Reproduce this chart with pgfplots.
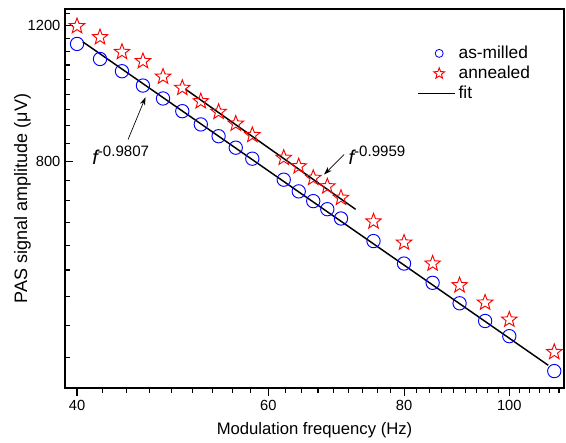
\documentclass[border=0pt]{standalone}
\usepackage{fontspec}
\setmainfont{Liberation Sans}
\usepackage{pgfplots}
\pgfplotsset{compat=1.18}
\usetikzlibrary{arrows.meta}

% hollow five-pointed star
\pgfdeclareplotmark{ostar}{%
  \pgfpathmoveto{\pgfqpointpolar{90}{\pgfplotmarksize}}%
  \pgfpathlineto{\pgfqpointpolar{126}{0.42\pgfplotmarksize}}%
  \pgfpathlineto{\pgfqpointpolar{162}{\pgfplotmarksize}}%
  \pgfpathlineto{\pgfqpointpolar{198}{0.42\pgfplotmarksize}}%
  \pgfpathlineto{\pgfqpointpolar{234}{\pgfplotmarksize}}%
  \pgfpathlineto{\pgfqpointpolar{270}{0.42\pgfplotmarksize}}%
  \pgfpathlineto{\pgfqpointpolar{306}{\pgfplotmarksize}}%
  \pgfpathlineto{\pgfqpointpolar{342}{0.42\pgfplotmarksize}}%
  \pgfpathlineto{\pgfqpointpolar{18}{\pgfplotmarksize}}%
  \pgfpathlineto{\pgfqpointpolar{54}{0.42\pgfplotmarksize}}%
  \pgfpathclose\pgfusepathqstroke}

\begin{document}
\begin{tikzpicture}
\begin{axis}[
    scale only axis,
    width=374pt, height=284pt,
    xmode=log, ymode=log,
    xmin=39, xmax=112.3,
    ymin=406, ymax=1261,
    clip=false,
    xtick={40,60,80,100}, xticklabels={40,60,80,100},
    ytick={800,1200}, yticklabels={800,1200},
    xtick pos=left, ytick pos=left,
    xtick align=outside, ytick align=inside,
    major tick length=6pt,
    axis line style={black, line width=0.9pt},
    tick style={black, line width=0.8pt},
    tick label style={font=\fontsize{11}{13}\selectfont},
    /pgf/number format/assume math mode=true,
    xlabel={Modulation frequency (Hz)},
    ylabel={PAS signal amplitude (μV)},
    xlabel style={font=\fontsize{12.5}{14}\selectfont, at={(axis description cs:0.5,0)}, yshift=-31.5pt, anchor=center},
    ylabel style={font=\fontsize{13.5}{15}\selectfont, at={(axis description cs:0,0.5)}, yshift=32pt, anchor=center},
    legend style={at={(0.697,0.917)}, anchor=north west, draw=none, fill=none,
                  font=\fontsize{13}{15}\selectfont, row sep=0.2pt},
    legend cell align=left,
]
% frame and ticks
\draw[black, line width=0.9pt] (rel axis cs:0,0) rectangle (rel axis cs:1,1);
\pgfplotsinvokeforeach{40,60,80,100}{
  \draw[black, line width=0.8pt] (axis cs:#1,406) -- ++(0pt,-6pt);}
\pgfplotsinvokeforeach{42.22,44.44,46.67,48.89,51.11,53.33,55.56,57.78,
                 62.22,64.44,66.67,68.89,71.11,73.33,75.56,77.78,
                 82.22,84.44,86.67,88.89,91.11,93.33,95.56,97.78,
                 102.22,104.44,106.67,108.89,111.11}{
  \draw[black, line width=0.8pt] (axis cs:#1,406) -- ++(0pt,-3.5pt);}
\pgfplotsinvokeforeach{800,1200}{
  \draw[black, line width=0.8pt] (axis cs:39,#1) -- ++(6pt,0pt);}
\pgfplotsinvokeforeach{444.4,488.9,533.3,577.8,622.2,666.7,711.1,755.6,
                 844.4,888.9,933.3,977.8,1022.2,1066.7,1111.1,1155.6,1244.4}{
  \draw[black, line width=0.8pt] (axis cs:39,#1) -- ++(3.5pt,0pt);}

\addplot[only marks, mark=o, mark size=5pt, blue, mark options={line width=0.7pt},
  legend image code/.code={\path[draw=none,fill=none] (0pt,-3pt) rectangle (28pt,3pt);
    \draw[blue, line width=0.6pt] (16pt,0pt) circle (3pt);}]
coordinates {
(40,1136) (42,1086) (44,1047) (46,1003) (48,965) (50,929) (52,893)
(54,862) (56,833) (58,806) (62,757) (64,731) (66,710) (68,693)
(70,674) (75,630) (80,589) (85,556) (90,523) (95,496) (100,474) (110,427)
};
\addlegendentry{as-milled}

\addplot[only marks, mark=ostar, mark size=6.1pt, red, mark options={line width=0.7pt},
  legend image code/.code={\path[draw=none,fill=none] (0pt,-3pt) rectangle (28pt,3pt);
    \draw[red, line width=0.6pt, mark=ostar, mark size=4.3pt] plot coordinates {(16pt,0pt)};}]
coordinates {
(40,1198) (42,1159) (44,1109) (46,1079) (48,1030) (50,996) (52,957)
(54,927) (56,895) (58,865) (62,808) (64,788) (66,761) (68,742)
(70,717) (75,668) (80,627) (85,589) (90,552) (95,524) (100,498) (110,452)
};
\addlegendentry{annealed}

\addplot[black, line width=1.1pt,
  legend image code/.code={\path[draw=none,fill=none] (0pt,-3pt) rectangle (28pt,3pt);
    \draw[black, line width=1.1pt] (0pt,0pt) -- (28pt,0pt);}]
coordinates {(40.5,1143) (108.6,434.5)};
\addlegendentry{fit}

\addplot[black, line width=1.1pt, forget plot]
coordinates {(50.4,991) (72.2,692.8)};

\draw[-{Stealth[length=6pt,width=4pt]}, line width=0.5pt] (axis cs:44.57,853.6) -- (axis cs:46.25,968.6);
\draw[-{Stealth[length=6pt,width=4pt]}, line width=0.5pt] (axis cs:70.46,816) -- (axis cs:67.53,768.8);

\node[anchor=base west, inner sep=0pt] at (axis cs:41.3,792)
  {{\fontsize{15}{16}\selectfont\itshape f}\raisebox{6pt}{\fontsize{11.3}{12}\selectfont -0.9807}};
\node[anchor=base west, inner sep=0pt] at (axis cs:71.1,792)
  {{\fontsize{15}{16}\selectfont\itshape f}\raisebox{6pt}{\fontsize{11.3}{12}\selectfont -0.9959}};

\coordinate (tr) at (rel axis cs:1,1);
\coordinate (bl) at (rel axis cs:0,0);
\end{axis}
\path (tr) ++(1.5pt,6.8pt);
\path (bl) ++(-48.75pt,-38.25pt);
\end{tikzpicture}
\end{document}
